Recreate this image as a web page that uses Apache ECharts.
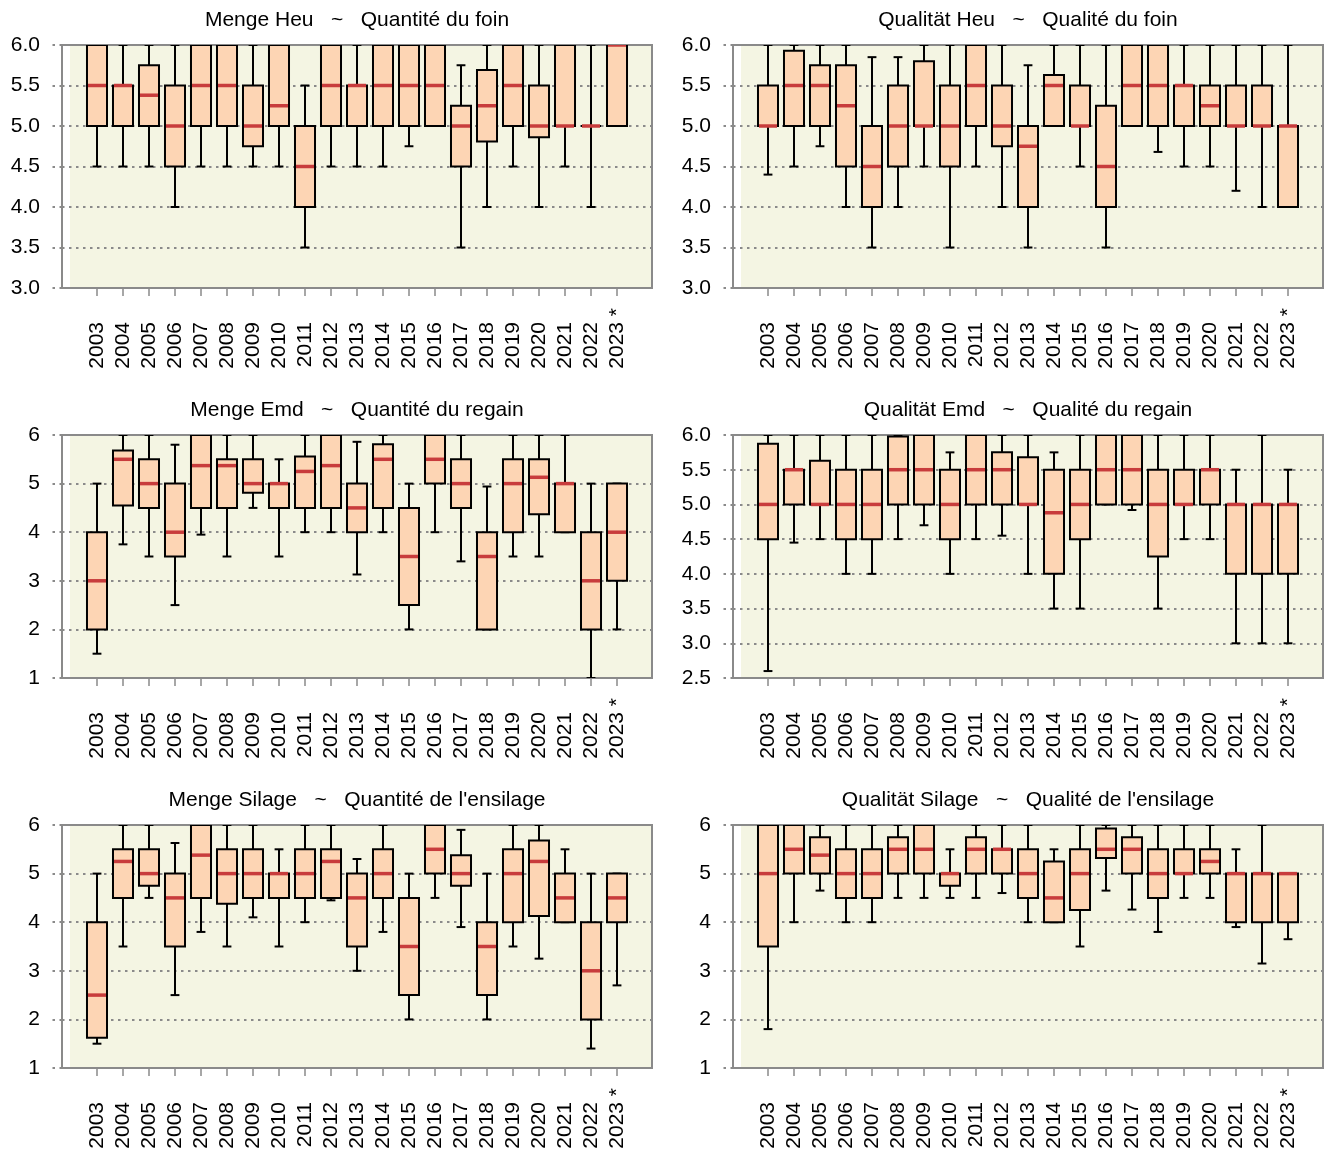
<!DOCTYPE html>
<html><head><meta charset="utf-8">
<script src="https://cdn.jsdelivr.net/npm/echarts@6/dist/echarts.min.js"></script>
<style>html,body{margin:0;padding:0;background:#fff}#c{width:1327px;height:1153px}</style>
</head><body><div id="c"></div>
<script>
// ---- data: [min, Q1, median, Q3, max] per year ----
const years = [2003,2004,2005,2006,2007,2008,2009,2010,2011,2012,2013,2014,2015,2016,2017,2018,2019,2020,2021,2022,2023];

const mengeHeu = [
 [4.5,5.0,5.5,6.0,6.0],[4.5,5.0,5.5,5.5,6.0],[4.5,5.0,5.38,5.75,6.0],[4.0,4.5,5.0,5.5,6.0],
 [4.5,5.0,5.5,6.0,6.0],[4.5,5.0,5.5,6.0,6.0],[4.5,4.75,5.0,5.5,6.0],[4.5,5.0,5.25,6.0,6.0],
 [3.5,4.0,4.5,5.0,5.5],[4.5,5.0,5.5,6.0,6.0],[4.5,5.0,5.5,5.5,6.0],[4.5,5.0,5.5,6.0,6.0],
 [4.75,5.0,5.5,6.0,6.0],[5.0,5.0,5.5,6.0,6.0],[3.5,4.5,5.0,5.25,5.75],[4.0,4.81,5.25,5.69,6.0],
 [4.5,5.0,5.5,6.0,6.0],[4.0,4.86,5.0,5.5,6.0],[4.5,5.0,5.0,6.0,6.0],[4.0,5.0,5.0,5.0,6.0],
 [5.0,5.0,6.0,6.0,6.0]
];
const qualHeu = [
 [4.4,5.0,5.0,5.5,6.0],[4.5,5.0,5.5,5.93,6.0],[4.75,5.0,5.5,5.75,6.0],[4.0,4.5,5.25,5.75,6.0],
 [3.5,4.0,4.5,5.0,5.85],[4.0,4.5,5.0,5.5,5.85],[4.5,5.0,5.0,5.8,6.0],[3.5,4.5,5.0,5.5,6.0],
 [4.5,5.0,5.5,6.0,6.0],[4.0,4.75,5.0,5.5,6.0],[3.5,4.0,4.75,5.0,5.75],[5.0,5.0,5.5,5.63,6.0],
 [4.5,5.0,5.0,5.5,6.0],[3.5,4.0,4.5,5.25,6.0],[5.0,5.0,5.5,6.0,6.0],[4.68,5.0,5.5,6.0,6.0],
 [4.5,5.0,5.5,5.5,6.0],[4.5,5.0,5.25,5.5,6.0],[4.2,5.0,5.0,5.5,6.0],[4.0,5.0,5.0,5.5,6.0],
 [4.0,4.0,5.0,5.0,6.0]
];
const mengeEmd = [
 [1.5,2,3,4,5],[3.75,4.55,5.5,5.68,6],[3.5,4.5,5,5.5,6],[2.5,3.5,4,5,5.8],
 [3.95,4.5,5.37,6,6],[3.5,4.5,5.37,5.5,6],[4.5,4.81,5,5.5,6],[3.5,4.5,5,5,5.5],
 [4,4.5,5.25,5.56,6],[4,4.5,5.37,6,6],[3.13,4,4.5,5,5.86],[4,4.5,5.5,5.81,6],
 [2,2.5,3.5,4.5,5],[4,5,5.5,6,6],[3.4,4.5,5,5.5,6],[2,2,3.5,4,4.94],
 [3.5,4,5,5.5,6],[3.5,4.37,5.13,5.5,6],[4,4,5,5,6],[1,2,3,4,5],
 [2,3,4,5,5]
];
const qualEmd = [
 [2.6,4.5,5,5.875,6],[4.45,5,5.5,5.5,6],[4.5,5,5,5.63,6],[4,4.5,5,5.5,6],
 [4,4.5,5,5.5,6],[4.5,5,5.5,5.98,6],[4.7,5,5.5,6,6],[4,4.5,5,5.5,5.75],
 [4.5,5,5.5,6,6],[4.55,5,5.5,5.75,6],[4,5,5,5.68,6],[3.5,4,4.88,5.5,5.75],
 [3.5,4.5,5,5.5,6],[5,5,5.5,6,6],[4.92,5,5.5,6,6],[3.5,4.25,5,5.5,6],
 [4.5,5,5,5.5,6],[4.5,5,5.5,5.5,6],[3,4,5,5,5.5],[3,4,5,5,6],
 [3,4,5,5,5.5]
];
const mengeSilage = [
 [1.5,1.62,2.5,4,5],[3.5,4.5,5.25,5.5,6],[4.5,4.75,5,5.5,6],[2.5,3.5,4.5,5,5.63],
 [3.8,4.5,5.38,6,6],[3.5,4.38,5,5.5,6],[4.1,4.5,5,5.5,6],[3.5,4.5,5,5,5.5],
 [4,4.5,5,5.5,6],[4.45,4.5,5.25,5.5,6],[3,3.5,4.5,5,5.3],[3.8,4.5,5,5.5,6],
 [2,2.5,3.5,4.5,5],[4.5,5,5.5,6,6],[3.9,4.75,5,5.38,5.9],[2,2.5,3.5,4,5],
 [3.5,4,5,5.5,6],[3.25,4.13,5.25,5.68,6],[4,4,4.5,5,5.5],[1.4,2,3,4,5],
 [2.7,4,4.5,5,5]
];
const qualSilage = [
 [1.8,3.5,5,6,6],[4,5,5.5,6,6],[4.65,5,5.38,5.75,6],[4,4.5,5,5.5,6],
 [4,4.5,5,5.5,6],[4.5,5,5.5,5.75,6],[4.5,5,5.5,6,6],[4.5,4.75,5,5,5.5],
 [4.5,5,5.5,5.75,6],[4.6,5,5.5,5.5,6],[4,4.5,5,5.5,6],[4,4,4.5,5.25,5.5],
 [3.5,4.25,5,5.5,6],[4.65,5.32,5.5,5.93,6],[4.26,5,5.5,5.75,6],[3.8,4.5,5,5.5,6],
 [4.5,5,5,5.5,6],[4.5,5,5.25,5.5,6],[3.9,4,5,5,5.5],[3.15,4,5,5,6],
 [3.65,4,5,5,5]
];

const titles = [
 'Menge Heu   ~   Quantité du foin', 'Qualität Heu   ~   Qualité du foin',
 'Menge Emd   ~   Quantité du regain', 'Qualität Emd   ~   Qualité du regain',
 'Menge Silage   ~   Quantité de l\'ensilage', 'Qualität Silage   ~   Qualité de l\'ensilage'
];
const yMins = [3, 3, 1, 2.5, 1, 1];
const yMaxs = [6, 6, 6, 6, 6, 6];
const yIntervals = [0.5, 0.5, 1, 0.5, 1, 1];
const yDecimals = [1, 1, 0, 1, 0, 0];
const panelData = [mengeHeu, qualHeu, mengeEmd, qualEmd, mengeSilage, qualSilage];

// ---- layout / style ----
const FONT = "'Liberation Sans', Arial, Helvetica, sans-serif";
const colLeft = [62, 733], rowTop = [45, 435, 825], plotW = 590, plotH = 243;
const XMIN = 2001.654, XMAX = 2024.346, BG_START = 2001.96;
const GRAY = '#8a8a8a', BOX = '#FDD5B4', MED = '#C83C3C', BG = '#F4F5E3';
const DOT = [2.5, 4.5];

function renderItem(params, api) {
  const x = api.value(0);
  const v = [1,2,3,4,5].map(i => api.value(i));
  const unit = api.size([1, 0])[0];
  const hw = unit * 0.385, cw = unit * 0.17;
  const pMin = api.coord([x, v[0]]), pQ1 = api.coord([x, v[1]]), pMed = api.coord([x, v[2]]),
        pQ3 = api.coord([x, v[3]]), pMax = api.coord([x, v[4]]);
  const cx = pMed[0];
  const ls = {stroke: '#000', lineWidth: 2};
  return {
    type: 'group',
    children: [
      {type: 'line', shape: {x1: cx, y1: pQ1[1], x2: cx, y2: pMin[1]}, style: ls},
      {type: 'line', shape: {x1: cx - cw, y1: pMin[1], x2: cx + cw, y2: pMin[1]}, style: ls},
      {type: 'line', shape: {x1: cx, y1: pQ3[1], x2: cx, y2: pMax[1]}, style: ls},
      {type: 'line', shape: {x1: cx - cw, y1: pMax[1], x2: cx + cw, y2: pMax[1]}, style: ls},
      {type: 'rect', shape: {x: cx - hw, y: pQ3[1], width: 2 * hw, height: pQ1[1] - pQ3[1]},
       style: {fill: BOX, stroke: '#000', lineWidth: 2}},
      {type: 'line', shape: {x1: cx - hw + 1, y1: pMed[1], x2: cx + hw - 1, y2: pMed[1]},
       style: {stroke: MED, lineWidth: 3.5}}
    ]
  };
}

const grids = [], xAxes = [], yAxes = [], series = [], graphics = [];
panelData.forEach((arr, i) => {
  const col = i % 2, row = Math.floor(i / 2);
  const left = colLeft[col], top = rowTop[row];
  grids.push({left, top, width: plotW, height: plotH, show: true, borderColor: GRAY, borderWidth: 2,
              backgroundColor: 'transparent', z: 0});
  xAxes.push({
    gridIndex: i, type: 'value', min: XMIN, max: XMAX,
    axisLine: {show: false}, splitLine: {show: false},
    axisTick: {show: true, customValues: years, length: 8, lineStyle: {color: GRAY, width: 1.5}},
    axisLabel: {
      customValues: years, rotate: 90, margin: 20, fontSize: 21, fontFamily: FONT, color: '#000',
      formatter: v => (v === 2023 ? '{n|2023} {a|*}' : '{n|' + v + '} {h|*}'),
      rich: {
        n: {fontSize: 21, fontFamily: FONT, color: '#000'},
        a: {fontSize: 21, fontFamily: FONT, color: '#000'},
        h: {fontSize: 21, fontFamily: FONT, color: 'rgba(0,0,0,0)'}
      }
    }
  });
  yAxes.push({
    gridIndex: i, type: 'value', min: yMins[i], max: yMaxs[i], interval: yIntervals[i], z: 1,
    axisLine: {show: false},
    axisTick: {show: true, length: 14, lineStyle: {color: GRAY, width: 2, type: DOT}},
    axisLabel: {margin: 22, fontSize: 21, fontFamily: FONT, color: '#000',
                formatter: v => Number(v).toFixed(yDecimals[i])},
    splitLine: {show: true, lineStyle: {color: GRAY, width: 2, type: DOT}}
  });
  series.push({
    type: 'line', xAxisIndex: i, yAxisIndex: i, data: [], z: -1, silent: true,
    markArea: {silent: true, z: -1, itemStyle: {color: BG}, data: [[{xAxis: BG_START}, {xAxis: XMAX}]]}
  });
  series.push({
    type: 'custom', xAxisIndex: i, yAxisIndex: i, clip: true, z: 2,
    encode: {x: 0, y: [1, 2, 3, 4, 5]},
    data: years.map((y, k) => [y].concat(arr[k])),
    renderItem
  });
  graphics.push({
    type: 'text', x: left + plotW / 2, y: top - 25,
    style: {text: titles[i], fontSize: 21, fontFamily: FONT, fill: '#000',
            align: 'center', verticalAlign: 'middle', textAlign: 'center', textVerticalAlign: 'middle'}
  });
});

const chart = echarts.init(document.getElementById('c'));
chart.setOption({
  animation: false,
  backgroundColor: '#fff',
  grid: grids, xAxis: xAxes, yAxis: yAxes, series, graphic: graphics
});
</script>
</body></html>
